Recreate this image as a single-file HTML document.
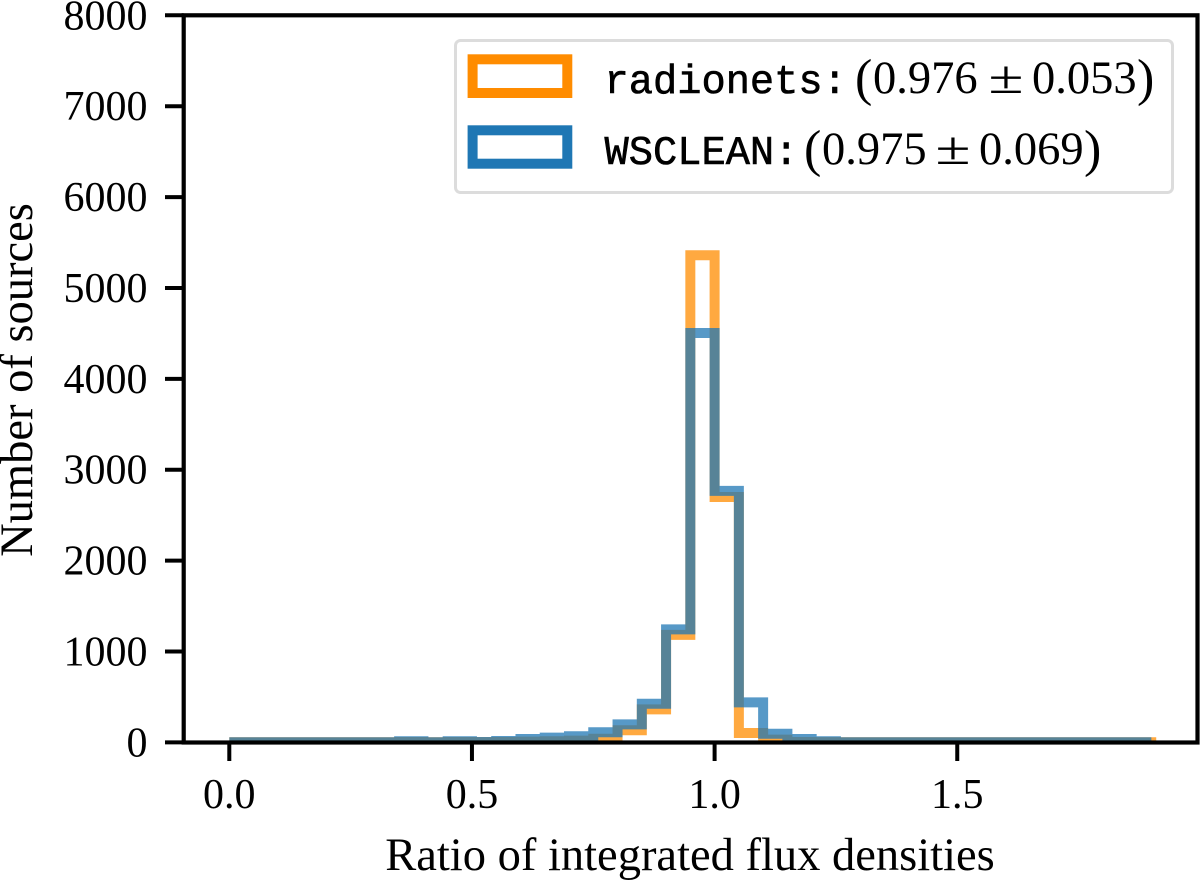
<!DOCTYPE html>
<html lang="en">
<head>
<meta charset="utf-8">
<title>Ratio of integrated flux densities</title>
<style>
  html, body { margin: 0; padding: 0; background: #fff; }
  svg { display: block; }
  text { font-family: "Liberation Serif", serif; fill: #000; }
  .mono { font-family: "Liberation Mono", monospace; stroke: #000; stroke-width: 0.6; }
</style>
</head>
<body>
<svg id="chart" xmlns="http://www.w3.org/2000/svg" width="1200" height="880" viewBox="0 0 1200 880">
  <defs>
    <clipPath id="plot-clip"><rect x="183.7" y="15.3" width="1013.8" height="727.2"></rect></clipPath>
  </defs>
  <rect x="0" y="0" width="1200" height="880" fill="#ffffff"></rect>
  <g id="series" clip-path="url(#plot-clip)"></g>
  <g id="ticks"></g>
  <rect x="183.7" y="15.3" width="1013.8" height="727.2" fill="none" stroke="#000" stroke-width="4.2"></rect>
  <text x="690" y="870" font-size="46.5" text-anchor="middle">Ratio of integrated flux densities</text>
  <text transform="translate(32 380) rotate(-90)" font-size="46.5" text-anchor="middle">Number of sources</text>

  <g>
    <rect x="455.5" y="40.5" width="717" height="152" rx="5" ry="5" fill="#fff" stroke="#dcdcdc" stroke-width="3"></rect>
    <rect x="472.6" y="59.3" width="94.7" height="33.7" fill="none" stroke="#ff8c00" stroke-width="10"></rect>
    <text class="mono" x="604.5" y="93" font-size="40.4">radionets:</text>
    <text x="855" y="95" font-size="52">(</text>
    <text x="873" y="93" font-size="46.5">0.976</text>
    <text x="988.5" y="93" font-size="46.5" textLength="35" lengthAdjust="spacingAndGlyphs">±</text>
    <text x="1032" y="93" font-size="46.5">0.053</text>
    <text x="1137" y="95" font-size="52">)</text>

    <rect x="472.6" y="130.3" width="94.7" height="33.4" fill="none" stroke="#1f77b4" stroke-width="10"></rect>
    <text class="mono" x="604.5" y="164" font-size="40.4">WSCLEAN:</text>
    <text x="804" y="166" font-size="52">(</text>
    <text x="822" y="164" font-size="46.5">0.975</text>
    <text x="935.5" y="164" font-size="46.5" textLength="35" lengthAdjust="spacingAndGlyphs">±</text>
    <text x="979" y="164" font-size="46.5">0.069</text>
    <text x="1084" y="166" font-size="52">)</text>
  </g>
</svg>
<script>
// Data
const binWidth = 0.05;
const radionetsCounts = [2,2,2,2,2,2,2,4,2,4,3,5,8,12,20,40,133,364,1183,5360,2700,104,30,5,3,2,2,2,2,2,2,2,2,2,2,2,2,2];
const wscleanCounts = [2,2,2,2,2,2,2,12,2,12,5,16,38,53,68,112,198,425,1243,4505,2768,440,95,38,13,2,2,2,2,2,2,2,2,2,2,2,2,2];
const radionetsRangeEnd = 1.91;
const wscleanRangeEnd = 1.90;
const xTickValues = [0.0, 0.5, 1.0, 1.5];
const xTickLabels = ["0.0", "0.5", "1.0", "1.5"];
const yTickValues = [0, 1000, 2000, 3000, 4000, 5000, 6000, 7000, 8000];
const yTickLabels = ["0", "1000", "2000", "3000", "4000", "5000", "6000", "7000", "8000"];

// Axis functions
function xScale(v) { return 229.3 + v * 485.3; }
function yScale(v) { return 742.4 - v * (727.1 / 8000); }

const NS = 'http://www.w3.org/2000/svg';
const seriesGroup = document.getElementById('series');
const ticksGroup = document.getElementById('ticks');

function stepPath(counts, rangeEnd) {
  let d = 'M' + xScale(0) + ' ' + yScale(counts[0]);
  for (let i = 0; i < counts.length; i++) {
    const right = i === counts.length - 1 ? rangeEnd : (i + 1) * binWidth;
    d += 'H' + xScale(right);
    if (i < counts.length - 1) d += 'V' + yScale(counts[i + 1]);
  }
  return d;
}

const radionetsLine = document.createElementNS(NS, 'path');


radionetsLine.setAttribute('d', stepPath(radionetsCounts, radionetsRangeEnd));
radionetsLine.setAttribute('fill', 'none');
radionetsLine.setAttribute('stroke', '#ff8c00');
radionetsLine.setAttribute('stroke-opacity', '0.75');
radionetsLine.setAttribute('stroke-width', '10');
seriesGroup.appendChild(radionetsLine);

const wscleanLine = document.createElementNS(NS, 'path');


wscleanLine.setAttribute('d', stepPath(wscleanCounts, wscleanRangeEnd));
wscleanLine.setAttribute('fill', 'none');
wscleanLine.setAttribute('stroke', '#1f77b4');
wscleanLine.setAttribute('stroke-opacity', '0.75');
wscleanLine.setAttribute('stroke-width', '10');
seriesGroup.appendChild(wscleanLine);

xTickValues.forEach(function (v, i) {
  const tick = document.createElementNS(NS, 'line');
  
  
  tick.setAttribute('x1', xScale(v));
  tick.setAttribute('x2', xScale(v));
  tick.setAttribute('y1', 742.5);
  tick.setAttribute('y2', 761);
  tick.setAttribute('stroke', '#000');
  tick.setAttribute('stroke-width', '4');
  ticksGroup.appendChild(tick);
  const label = document.createElementNS(NS, 'text');
  
  
  label.setAttribute('x', xScale(v));
  label.setAttribute('y', 808);
  label.setAttribute('font-size', '42');
  label.setAttribute('text-anchor', 'middle');
  label.textContent = xTickLabels[i];
  ticksGroup.appendChild(label);
});

yTickValues.forEach(function (v, i) {
  const tick = document.createElementNS(NS, 'line');
  
  
  tick.setAttribute('x1', 165);
  tick.setAttribute('x2', 183.7);
  tick.setAttribute('y1', yScale(v));
  tick.setAttribute('y2', yScale(v));
  tick.setAttribute('stroke', '#000');
  tick.setAttribute('stroke-width', '4');
  ticksGroup.appendChild(tick);
  const label = document.createElementNS(NS, 'text');
  
  
  label.setAttribute('x', 147.5);
  label.setAttribute('y', yScale(v) + 14);
  label.setAttribute('font-size', '42');
  label.setAttribute('text-anchor', 'end');
  label.textContent = yTickLabels[i];
  ticksGroup.appendChild(label);
});
</script>
</body>
</html>
